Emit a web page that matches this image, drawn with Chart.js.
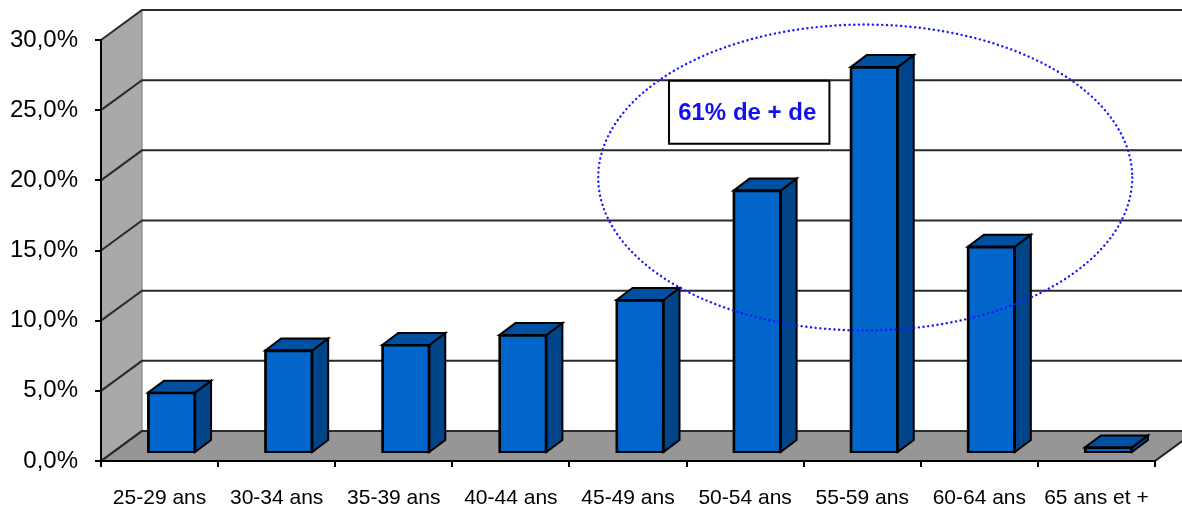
<!DOCTYPE html>
<html>
<head>
<meta charset="utf-8">
<script src="https://cdn.jsdelivr.net/npm/chart.js@4.4.1/dist/chart.umd.min.js"></script>
<style>
  html, body { margin: 0; background: #fff; }
  canvas { display: block; }
</style>
</head>
<body>
<canvas id="c" width="1182" height="513"></canvas>
<script>
// data
const categories = ['25-29 ans', '30-34 ans', '35-39 ans', '40-44 ans', '45-49 ans',
                    '50-54 ans', '55-59 ans', '60-64 ans', '65 ans et +'];
const shares = [4.3, 7.3, 7.7, 8.4, 10.9, 18.7, 27.5, 14.7, 0.4];
const yTicks = [0, 5, 10, 15, 20, 25, 30];
const note = '61% de + de';

const FONT = "'Liberation Sans', Arial, sans-serif";
const WALL = { dx: 41, dy: -30 };               // depth of the 3d box
const BAR = { dx: 12, dy: -8, sx: 16, sy: -12 }; // bar plane shift + bar depth
const fmt = (v) => v.toFixed(1).replace('.', ',') + '%';

function poly(ctx, pts, fill, stroke, lw) {
  ctx.beginPath();
  ctx.moveTo(pts[0][0], pts[0][1]);
  for (let i = 1; i < pts.length; i++) ctx.lineTo(pts[i][0], pts[i][1]);
  ctx.closePath();
  if (fill) { ctx.fillStyle = fill; ctx.fill(); }
  if (stroke) { ctx.strokeStyle = stroke; ctx.lineWidth = lw || 1.5; ctx.stroke(); }
}

const box3d = {
  id: 'box3d',
  beforeDraw(chart) {
    const ctx = chart.ctx, ys = chart.scales.y;
    const { left, right, top, bottom } = chart.chartArea;
    const dx = WALL.dx, dy = WALL.dy;
    ctx.save();
    poly(ctx, [[left, top], [left + dx, top + dy], [left + dx, bottom + dy], [left, bottom]], '#a9a9a9');
    poly(ctx, [[left, bottom], [left + dx, bottom + dy], [right + dx, bottom + dy], [right, bottom]], '#969696', '#222', 2);
    ctx.strokeStyle = '#777';
    ctx.lineWidth = 1;
    ctx.beginPath();
    ctx.moveTo(left + dx, top + dy);
    ctx.lineTo(left + dx, bottom + dy);
    ctx.stroke();
    ctx.strokeStyle = '#2a2a2a';
    ctx.lineWidth = 2;
    yTicks.forEach((v) => {
      const y = ys.getPixelForValue(v);
      ctx.beginPath();
      ctx.moveTo(left, y);
      ctx.lineTo(left + dx, y + dy);
      ctx.lineTo(right + dx, y + dy);
      ctx.stroke();
    });
    ctx.restore();
  },
  beforeDatasetsDraw(chart) {
    chart.ctx.save();
    chart.ctx.translate(BAR.dx, BAR.dy);
  },
  afterDatasetsDraw(chart) {
    const ctx = chart.ctx;
    chart.getDatasetMeta(0).data.forEach((el) => {
      const p = el.getProps(['x', 'y', 'base', 'width'], true);
      const l = p.x - p.width / 2, r = p.x + p.width / 2;
      poly(ctx, [[r, p.y], [r + BAR.sx, p.y + BAR.sy], [r + BAR.sx, p.base + BAR.sy], [r, p.base]], '#004489', '#000', 2);
      poly(ctx, [[l, p.y], [l + BAR.sx, p.y + BAR.sy], [r + BAR.sx, p.y + BAR.sy], [r, p.y]], '#0050a2', '#000', 2);
      poly(ctx, [[l, p.y], [r, p.y], [r, p.base], [l, p.base]], null, '#000', 2);
    });
    ctx.restore();
  },
  afterDraw(chart) {
    const ctx = chart.ctx, xs = chart.scales.x, ys = chart.scales.y;
    ctx.save();
    // dotted ring round the 50-64 bars
    const cx = xs.getPixelForValue(6) + 3, cy = ys.getPixelForValue(20.2);
    const rx = (xs.getPixelForValue(8) - xs.getPixelForValue(6)) * 1.14;
    const ry = ys.getPixelForValue(0) - ys.getPixelForValue(10.9);
    ctx.beginPath();
    ctx.ellipse(cx, cy, rx, ry, 0, 0, Math.PI * 2);
    ctx.setLineDash([0.1, 4.6]);
    ctx.lineCap = 'round';
    ctx.lineWidth = 2.4;
    ctx.strokeStyle = '#1a1aff';
    ctx.stroke();
    ctx.setLineDash([]);
    // note box
    const bl = xs.getPixelForValue(4.35), br = xs.getPixelForValue(5.72);
    const bt = ys.getPixelForValue(27.1), bb = ys.getPixelForValue(22.6);
    poly(ctx, [[bl, bt], [br, bt], [br, bb], [bl, bb]], '#fff', '#000', 2);
    ctx.fillStyle = '#1010f0';
    ctx.font = 'bold 24px ' + FONT;
    ctx.textAlign = 'center';
    ctx.textBaseline = 'middle';
    ctx.fillText(note, (bl + br) / 2 - 2, (bt + bb) / 2 + 1);
    ctx.restore();
  }
};

new Chart(document.getElementById('c'), {
  type: 'bar',
  data: {
    labels: categories,
    datasets: [{
      data: shares,
      backgroundColor: '#0066cc',
      borderColor: '#000',
      borderWidth: 2,
      barThickness: 47
    }]
  },
  options: {
    responsive: false,
    animation: false,
    devicePixelRatio: 1,
    layout: { padding: { top: 40, right: 27, left: 0, bottom: 0 } },
    plugins: { legend: { display: false }, tooltip: { enabled: false } },
    scales: {
      x: {
        ticks: { font: { family: FONT, size: 21 }, color: '#000', maxRotation: 0, autoSkip: false, padding: 19 },
        grid: { drawOnChartArea: false, tickLength: 6, color: '#000', lineWidth: 2, offset: true },
        border: { color: '#000', width: 2 },
        afterFit: (s) => { s.height = 52; }
      },
      y: {
        min: 0,
        max: 30,
        afterBuildTicks: (s) => { s.ticks = yTicks.map((v) => ({ value: v })); },
        ticks: { font: { family: FONT, size: 24 }, color: '#000', padding: 17, callback: (v) => fmt(v) },
        grid: { drawOnChartArea: false, tickLength: 6, color: '#000', lineWidth: 2 },
        border: { color: '#000', width: 2 },
        afterFit: (s) => { s.width = 101; }
      }
    }
  },
  plugins: [box3d]
});
</script>
</body>
</html>
